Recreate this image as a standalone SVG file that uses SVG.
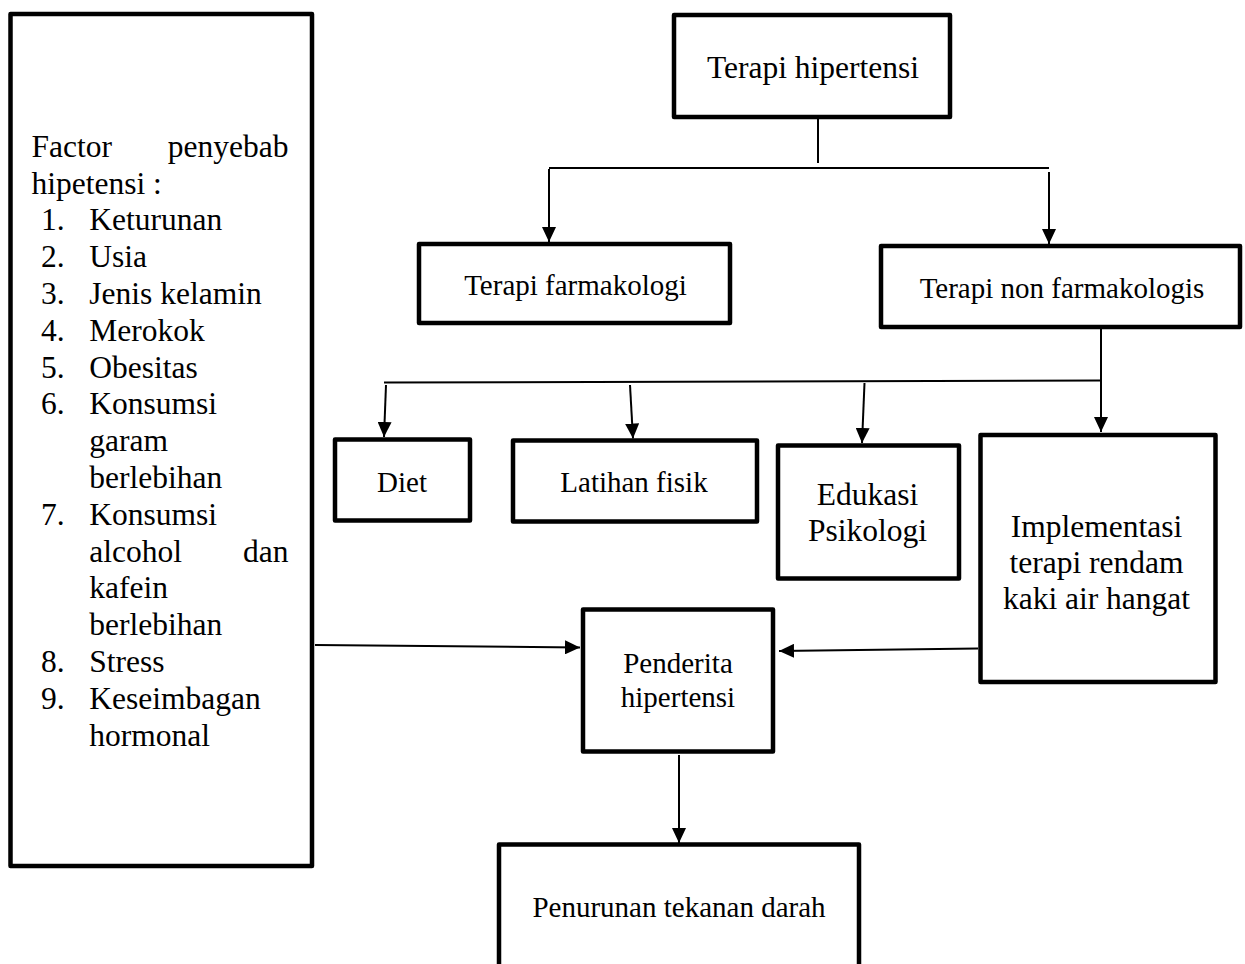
<svg xmlns="http://www.w3.org/2000/svg" width="1245" height="964" viewBox="0 0 1245 964">
<style>
.box{fill:#fff;stroke:#000;stroke-width:4.5;stroke-linejoin:round}
.ln{fill:none;stroke:#000;stroke-width:2}
.t{font-family:"Liberation Serif","Times New Roman",serif;fill:#000}
.big{font-size:31.5px}
.sm{font-size:29px}
.c{text-anchor:middle}
</style>
<defs>
<marker id="ah" viewBox="0 0 15 14" refX="15" refY="7" markerWidth="15" markerHeight="14" markerUnits="userSpaceOnUse" orient="auto">
<path d="M0,0 L15,7 L0,14 z" fill="#000"/>
</marker>
</defs>
<rect width="1245" height="964" fill="#fff"/>

<g id="connectors">
<line class="ln" x1="818" y1="117" x2="818" y2="163"/>
<line class="ln" x1="549" y1="168" x2="1049" y2="168"/>
<line class="ln" x1="549" y1="169" x2="549" y2="242" marker-end="url(#ah)"/>
<line class="ln" x1="1049" y1="172" x2="1049" y2="244" marker-end="url(#ah)"/>
<line class="ln" x1="1101" y1="329" x2="1101" y2="432" marker-end="url(#ah)"/>
<line class="ln" x1="384" y1="382.5" x2="1101" y2="380.5"/>
<line class="ln" x1="386" y1="385" x2="384" y2="437" marker-end="url(#ah)"/>
<line class="ln" x1="630" y1="385" x2="633" y2="438.5" marker-end="url(#ah)"/>
<line class="ln" x1="864.5" y1="383" x2="862" y2="443" marker-end="url(#ah)"/>
<line class="ln" x1="315" y1="645" x2="580" y2="647.5" marker-end="url(#ah)"/>
<line class="ln" x1="978" y1="648.5" x2="779" y2="651" marker-end="url(#ah)"/>
<line class="ln" x1="679" y1="755" x2="679" y2="843" marker-end="url(#ah)"/>
</g>

<g id="factors">
<rect class="box" x="10.5" y="14" width="301.5" height="852"/>
<text class="t big" x="31.5" y="156.7">Factor</text>
<text class="t big" x="288.5" y="156.7" text-anchor="end">penyebab</text>
<text class="t big" x="31.5" y="193.5">hipetensi :</text>
<text class="t big" x="41" y="230.3">1.</text>
<text class="t big" x="89.3" y="230.3">Keturunan</text>
<text class="t big" x="41" y="267.1">2.</text>
<text class="t big" x="89.3" y="267.1">Usia</text>
<text class="t big" x="41" y="303.9">3.</text>
<text class="t big" x="89.3" y="303.9">Jenis kelamin</text>
<text class="t big" x="41" y="340.7">4.</text>
<text class="t big" x="89.3" y="340.7">Merokok</text>
<text class="t big" x="41" y="377.5">5.</text>
<text class="t big" x="89.3" y="377.5">Obesitas</text>
<text class="t big" x="41" y="414.3">6.</text>
<text class="t big" x="89.3" y="414.3">Konsumsi</text>
<text class="t big" x="89.3" y="451.1">garam</text>
<text class="t big" x="89.3" y="487.9">berlebihan</text>
<text class="t big" x="41" y="524.7">7.</text>
<text class="t big" x="89.3" y="524.7">Konsumsi</text>
<text class="t big" x="89.3" y="561.5">alcohol</text>
<text class="t big" x="288.5" y="561.5" text-anchor="end">dan</text>
<text class="t big" x="89.3" y="598.3">kafein</text>
<text class="t big" x="89.3" y="635.1">berlebihan</text>
<text class="t big" x="41" y="671.9">8.</text>
<text class="t big" x="89.3" y="671.9">Stress</text>
<text class="t big" x="41" y="708.7">9.</text>
<text class="t big" x="89.3" y="708.7">Keseimbagan</text>
<text class="t big" x="89.3" y="745.5">hormonal</text>
</g>

<g id="terapi-hipertensi">
<rect class="box" x="674" y="15" width="276" height="102"/>
<text class="t big c" x="813" y="78">Terapi hipertensi</text>
</g>

<g id="terapi-farmakologi">
<rect class="box" x="419" y="244" width="311" height="79"/>
<text class="t sm c" x="575.5" y="295">Terapi farmakologi</text>
</g>

<g id="terapi-non-farmakologis">
<rect class="box" x="881" y="246" width="359" height="81"/>
<text class="t sm c" x="1062" y="297.5">Terapi non farmakologis</text>
</g>

<g id="diet">
<rect class="box" x="335" y="439.5" width="135" height="81"/>
<text class="t sm c" x="402" y="491.5">Diet</text>
</g>

<g id="latihan-fisik">
<rect class="box" x="513" y="440.5" width="244" height="81"/>
<text class="t sm c" x="634" y="491.5">Latihan fisik</text>
</g>

<g id="edukasi-psikologi">
<rect class="box" x="778" y="445.5" width="181" height="133"/>
<text class="t big c" x="867.5" y="505">Edukasi</text>
<text class="t big c" x="867.5" y="540.7">Psikologi</text>
</g>

<g id="implementasi">
<rect class="box" x="980.5" y="435" width="235" height="247"/>
<text class="t big c" x="1096.5" y="536.5">Implementasi</text>
<text class="t big c" x="1096.5" y="572.5">terapi rendam</text>
<text class="t big c" x="1096.5" y="608.5">kaki air hangat</text>
</g>

<g id="penderita">
<rect class="box" x="583" y="609.5" width="190" height="142"/>
<text class="t sm c" x="678" y="673.3">Penderita</text>
<text class="t sm c" x="678" y="706.7">hipertensi</text>
</g>

<g id="penurunan">
<rect class="box" x="499" y="844.5" width="360" height="140"/>
<text class="t sm c" x="679" y="917">Penurunan tekanan darah</text>
</g>
</svg>
